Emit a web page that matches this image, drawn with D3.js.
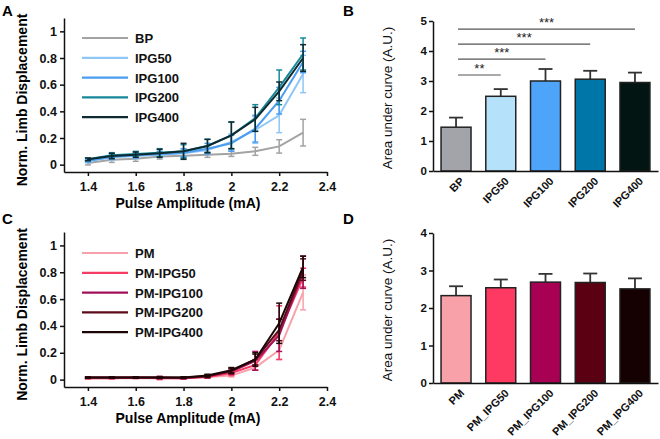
<!DOCTYPE html>
<html>
<head>
<meta charset="utf-8">
<script src="https://cdn.jsdelivr.net/npm/d3@7"></script>
<style>
  body { margin: 0; background: #fff; }
  svg { font-family: "Liberation Sans", Arial, sans-serif; }
  .axis path, .axis line { stroke: #111; stroke-width: 1.5; }
  .axis text { font-weight: bold; fill: #111; }
</style>
</head>
<body>
<svg id="fig" width="660" height="439"></svg>
<script>
// amplitudes shared by A and C
const amps = [1.4, 1.5, 1.6, 1.7, 1.8, 1.9, 2.0, 2.1, 2.2, 2.3];
const ampTicks = [1.4, 1.6, 1.8, 2.0, 2.2, 2.4];

// panel A
const seriesA = ["BP", "IPG50", "IPG100", "IPG200", "IPG400"];
const colorsA = ["#a3a3a3", "#8ec6f6", "#4b9df0", "#17889a", "#0e2b32"];
const meanA = [
  [0.013, 0.037, 0.045, 0.062, 0.067, 0.075, 0.082, 0.1, 0.137, 0.24],
  [0.025, 0.055, 0.065, 0.075, 0.085, 0.11, 0.17, 0.26, 0.37, 0.68],
  [0.03, 0.06, 0.07, 0.08, 0.09, 0.12, 0.16, 0.27, 0.48, 0.77],
  [0.04, 0.07, 0.08, 0.09, 0.1, 0.14, 0.22, 0.35, 0.58, 0.83],
  [0.04, 0.065, 0.075, 0.085, 0.1, 0.14, 0.22, 0.34, 0.55, 0.8]
];
const errA = [
  [0.015, 0.02, 0.02, 0.02, 0.02, 0.02, 0.02, 0.03, 0.05, 0.1],
  [0.01, 0.02, 0.02, 0.02, 0.03, 0.03, 0.06, 0.1, 0.13, 0.14],
  [0.01, 0.02, 0.02, 0.02, 0.03, 0.04, 0.06, 0.1, 0.1, 0.08],
  [0.01, 0.02, 0.02, 0.03, 0.05, 0.05, 0.1, 0.1, 0.13, 0.12],
  [0.01, 0.02, 0.02, 0.03, 0.06, 0.05, 0.1, 0.09, 0.07, 0.1]
];

// panel C
const seriesC = ["PM", "PM-IPG50", "PM-IPG100", "PM-IPG200", "PM-IPG400"];
const colorsC = ["#f7a1aa", "#f53c64", "#a3105a", "#5c0b1a", "#1c0606"];
const meanC = [
  [0.01, 0.01, 0.01, 0.01, 0.01, 0.02, 0.03, 0.09, 0.22, 0.65],
  [0.01, 0.01, 0.015, 0.01, 0.01, 0.02, 0.05, 0.11, 0.35, 0.76],
  [0.015, 0.015, 0.015, 0.015, 0.01, 0.025, 0.06, 0.14, 0.33, 0.8],
  [0.015, 0.015, 0.015, 0.015, 0.015, 0.025, 0.065, 0.15, 0.37, 0.82],
  [0.015, 0.015, 0.015, 0.015, 0.015, 0.03, 0.07, 0.15, 0.42, 0.84]
];
const errC = [
  [0.005, 0.005, 0.005, 0.005, 0.005, 0.005, 0.01, 0.02, 0.07, 0.13],
  [0.005, 0.005, 0.005, 0.01, 0.005, 0.01, 0.02, 0.04, 0.2, 0.07],
  [0.005, 0.005, 0.005, 0.01, 0.005, 0.01, 0.02, 0.07, 0.12, 0.12],
  [0.005, 0.005, 0.005, 0.005, 0.005, 0.01, 0.02, 0.04, 0.08, 0.08],
  [0.005, 0.005, 0.005, 0.005, 0.005, 0.01, 0.02, 0.05, 0.15, 0.08]
];

// panel B
const groupsB = ["BP", "IPG50", "IPG100", "IPG200", "IPG400"];
const aucB = [1.46, 2.49, 3.0, 3.06, 2.95];
const semB = [0.32, 0.24, 0.4, 0.28, 0.33];
const barColorsB = ["#a3a3aa", "#b5e1fb", "#4ea4f8", "#0075a8", "#021512"];
const sigB = [
  { to: "IPG50", y: 3.2, label: "**" },
  { to: "IPG100", y: 3.73, label: "***" },
  { to: "IPG200", y: 4.23, label: "***" },
  { to: "IPG400", y: 4.73, label: "***" }
];

// panel D
const groupsD = ["PM", "PM_IPG50", "PM_IPG100", "PM_IPG200", "PM_IPG400"];
const aucD = [2.33, 2.54, 2.69, 2.68, 2.51];
const semD = [0.25, 0.22, 0.22, 0.24, 0.28];
const barColorsD = ["#f9a1a9", "#ff3a62", "#a80052", "#5a0012", "#150002"];

const svg = d3.select("#fig");

function panelLabel(t, x, y) {
  svg.append("text").attr("x", x).attr("y", y).text(t)
    .style("font-size", "15px").style("font-weight", "bold");
}

function lineChart(top, names, colors, means, errs) {
  const x = d3.scaleLinear().domain([1.3, 2.4]).range([64, 327]);
  const yRange = top ? [172, 18] : [387, 232];
  const y = d3.scaleLinear().domain([-0.055, 1.1]).range(yRange);
  const g = svg.append("g");

  g.append("g").attr("class", "axis")
    .attr("transform", `translate(0,${yRange[0]})`)
    .call(d3.axisBottom(x).tickValues(ampTicks).tickSize(4).tickPadding(6)
      .tickFormat(d3.format("~g")).tickSizeOuter(0))
    .selectAll("text").style("font-size", "12.5px");
  g.append("g").attr("class", "axis")
    .attr("transform", "translate(64,0)")
    .call(d3.axisLeft(y).tickValues([0, 0.2, 0.4, 0.6, 0.8, 1]).tickSize(4)
      .tickFormat(d3.format("~g")).tickSizeOuter(0))
    .selectAll("text").style("font-size", "12.5px");

  g.append("text")
    .attr("x", 188).attr("y", yRange[0] + 36)
    .attr("text-anchor", "middle")
    .style("font-size", "14px").style("font-weight", "bold")
    .text("Pulse Amplitude (mA)");
  g.append("text")
    .attr("transform", `translate(27,${(yRange[0] + yRange[1]) / 2 + 5}) rotate(-90)`)
    .attr("text-anchor", "middle")
    .style("font-size", "14px").style("font-weight", "bold")
    .text("Norm. Limb Displacement");

  const line = d3.line().x((d, i) => x(amps[i])).y((d) => y(d));
  names.forEach((name, s) => {
    const sg = g.append("g").attr("stroke", colors[s]).attr("fill", "none");
    sg.append("path").attr("d", line(means[s])).attr("stroke-width", 2);
    means[s].forEach((m, i) => {
      const xi = x(amps[i]);
      const lo = y(m - errs[s][i]), hi = y(m + errs[s][i]);
      sg.append("line").attr("x1", xi).attr("x2", xi).attr("y1", lo).attr("y2", hi)
        .attr("stroke-width", 1.5);
      [lo, hi].forEach((yy) => sg.append("line")
        .attr("x1", xi - 3).attr("x2", xi + 3).attr("y1", yy).attr("y2", yy)
        .attr("stroke-width", 1.5));
    });
  });

  // legend
  const legTop = top ? 38 : 253;
  names.forEach((name, s) => {
    const ly = legTop + s * 19.8;
    g.append("line").attr("x1", 82).attr("x2", 128).attr("y1", ly).attr("y2", ly)
      .attr("stroke", colors[s]).attr("stroke-width", 2.2);
    g.append("text").attr("x", 135).attr("y", ly + 5).text(name)
      .style("font-size", "13px").style("font-weight", "bold").attr("fill", "#111");
  });
}

function barChart(top, groups, vals, sems, colors, yMax) {
  const yRange = top ? [171, 21] : [383, 233];
  const x = d3.scaleBand().domain(groups).range([433, 658])
    .paddingInner(0.33).paddingOuter(0.18);
  const y = d3.scaleLinear().domain([0, yMax]).range(yRange);
  const g = svg.append("g");

  g.selectAll(".err").data(groups).enter().append("g")
    .each(function (d, i) {
      const cx = x(d) + x.bandwidth() / 2;
      const e = d3.select(this).attr("stroke", "#333").attr("stroke-width", 1.8);
      e.append("line").attr("x1", cx).attr("x2", cx)
        .attr("y1", y(vals[i])).attr("y2", y(vals[i] + sems[i]));
      e.append("line").attr("x1", cx - 7).attr("x2", cx + 7)
        .attr("y1", y(vals[i] + sems[i])).attr("y2", y(vals[i] + sems[i]));
    });

  g.selectAll(".bar").data(groups).enter().append("rect")
    .attr("x", (d) => x(d))
    .attr("y", (d, i) => y(vals[i]))
    .attr("width", x.bandwidth())
    .attr("height", (d, i) => y(0) - y(vals[i]))
    .attr("fill", (d, i) => colors[i])
    .attr("stroke", "#222").attr("stroke-width", 1.5);

  const yAxis = g.append("g").attr("class", "axis").attr("transform", "translate(433,0)")
    .call(d3.axisLeft(y).ticks(yMax).tickSize(4).tickPadding(2).tickSizeOuter(0));
  yAxis.selectAll("text").style("font-size", "11.5px");

  const xAxis = g.append("g").attr("class", "axis")
    .attr("transform", `translate(0,${yRange[0]})`)
    .call(d3.axisBottom(x).tickSize(0).tickSizeOuter(0));
  xAxis.selectAll("text")
    .attr("text-anchor", "end")
    .attr("transform", "translate(4,6) rotate(-45)")
    .attr("dy", "0.35em")
    .style("font-size", "11px");

  g.append("text")
    .attr("transform", `translate(392,${(yRange[0] + yRange[1]) / 2 + 2}) rotate(-90)`)
    .attr("text-anchor", "middle")
    .style("font-size", "13.5px").attr("fill", "#111")
    .text("Area under curve (A.U.)");
  return { g, x, y };
}

panelLabel("A", 2, 16);
panelLabel("B", 343, 16);
panelLabel("C", 2, 224);
panelLabel("D", 343, 224);

lineChart(true, seriesA, colorsA, meanA, errA);
lineChart(false, seriesC, colorsC, meanC, errC);

const b = barChart(true, groupsB, aucB, semB, barColorsB, 5);
barChart(false, groupsD, aucD, semD, barColorsD, 4);

// significance brackets in B
const x0 = b.x("BP") + b.x.bandwidth() / 2 + 2;
sigB.forEach((s) => {
  const x1 = b.x(s.to) + b.x.bandwidth() / 2;
  b.g.append("line").attr("x1", x0).attr("x2", x1)
    .attr("y1", b.y(s.y)).attr("y2", b.y(s.y))
    .attr("stroke", "#555").attr("stroke-width", 1.2);
  b.g.append("text").attr("x", (x0 + x1) / 2).attr("y", b.y(s.y) - 2)
    .attr("text-anchor", "middle")
    .style("font-size", "13px").attr("fill", "#222")
    .text(s.label);
});
</script>
</body>
</html>
